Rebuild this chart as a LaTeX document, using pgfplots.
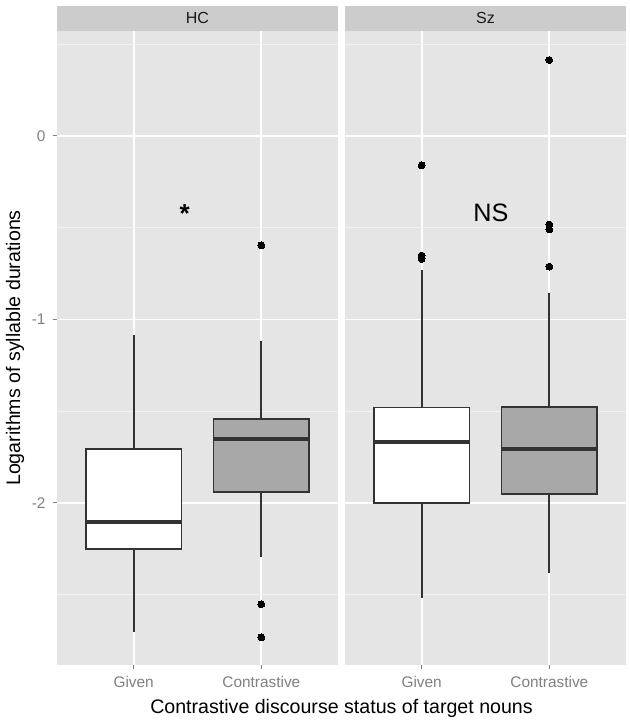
\documentclass[border=0pt]{standalone}
\usepackage{pgfplots}
\pgfplotsset{compat=1.18}
\usepgfplotslibrary{statistics}
\usepackage{fontspec}
\setmainfont{Liberation Sans}
\definecolor{panelbg}{HTML}{E5E5E5}
\definecolor{minorgrid}{HTML}{F2F2F2}
\definecolor{stripbg}{HTML}{CCCCCC}
\definecolor{boxline}{HTML}{333333}
\definecolor{boxfill}{HTML}{A8A8A8}
\definecolor{ticktext}{HTML}{7F7F7F}

\pgfplotsset{
  facet/.style={
    scale only axis, width=140.5pt, height=317pt,
    anchor=south west,
    xmin=0.4, xmax=2.6, ymin=-2.883, ymax=0.572,
    xtick={1,2}, xticklabels={Given,Contrastive},
    ytick={-2,-1,0}, minor ytick={-2.5,-1.5,-0.5,0.5},
    grid=both,
    major grid style={white, line width=0.9pt},
    minor grid style={minorgrid, line width=0.45pt},
    axis background/.style={fill=panelbg},
    axis line style={draw=none},
    tick align=outside, major tick length=2.2pt, minor tick length=0pt,
    tick style={ticktext, line width=0.5pt},
    xtick pos=bottom, ytick pos=left,
    tick label style={font=\fontsize{7.7}{8}\selectfont, text=ticktext},
    every axis title shift=0pt,
    title style={at={(0.5,1)}, anchor=south, yshift=0pt, fill=stripbg,
      minimum width=140.5pt, minimum height=12.5pt, inner sep=0pt,
      text=black!90, font=\fontsize{8}{8}\selectfont},
    boxplot/draw direction=y,
    boxplot/whisker extend=0,
    boxplot/box extend=0.75,
  },
  bx/.style={draw=boxline, line width=0.9pt, mark=*, mark size=1.7pt,
    mark options={fill=black, draw=black, line width=0pt},
    boxplot/every median/.style={line width=1.9pt}},
}

\begin{document}
\begin{tikzpicture}
\useasboundingbox (0,0) rectangle (315pt,362.5pt);

% HC
\begin{axis}[facet, at={(28.5pt,30pt)}, title={HC}, yticklabels={-2,-1,0}]
\addplot[bx, fill=white, boxplot prepared={draw position=1,
  lower whisker=-2.701, lower quartile=-2.252, median=-2.102,
  upper quartile=-1.707, upper whisker=-1.084}] coordinates {};
\addplot[bx, fill=boxfill, boxplot prepared={draw position=2,
  lower whisker=-2.293, lower quartile=-1.940, median=-1.653,
  upper quartile=-1.542, upper whisker=-1.115}]
  table[row sep=\\, y index=0] {data\\ -0.596\\ -2.552\\ -2.732\\};
\node[anchor=base, yshift=-7.4pt, font=\fontsize{13}{13}\selectfont\bfseries] at (axis cs:1.4,-0.392) {*};
\end{axis}

% Sz
\begin{axis}[facet, at={(172.5pt,30pt)}, title={Sz}, yticklabels={}, ytick style={draw=none}]
\addplot[bx, fill=white, boxplot prepared={draw position=1,
  lower whisker=-2.516, lower quartile=-1.998, median=-1.669,
  upper quartile=-1.480, upper whisker=-0.730}]
  table[row sep=\\, y index=0] {data\\ -0.160\\ -0.651\\ -0.670\\};
\addplot[bx, fill=boxfill, boxplot prepared={draw position=2,
  lower whisker=-2.383, lower quartile=-1.951, median=-1.706,
  upper quartile=-1.475, upper whisker=-0.854}]
  table[row sep=\\, y index=0] {data\\ 0.414\\ -0.482\\ -0.509\\ -0.712\\};
\node[font=\fontsize{12.6}{13}\selectfont] at (axis cs:1.543,-0.421) {NS};
\end{axis}

\node[font=\fontsize{9.8}{10}\selectfont] at (170.75pt,8.5pt) {Contrastive discourse status of target nouns};
\node[rotate=90, font=\fontsize{9.8}{10}\selectfont] at (7.5pt,188.5pt) {Logarithms of syllable durations};
\end{tikzpicture}
\end{document}
